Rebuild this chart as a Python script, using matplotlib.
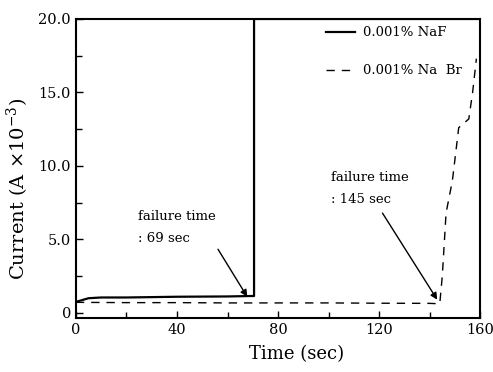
import numpy as np
import matplotlib
matplotlib.use('Agg')
import matplotlib.pyplot as plt
from matplotlib.ticker import MultipleLocator, FixedLocator, FixedFormatter

plt.rcParams['font.family'] = ['DejaVu Serif']
plt.rcParams['mathtext.fontset'] = 'dejavuserif'

# 0.001% NaF (solid)
naf_t = [0, 2, 5, 10, 20, 40, 60, 69, 70.5, 70.5, 100, 160]
naf_i = [0.75, 0.85, 1.0, 1.05, 1.05, 1.1, 1.12, 1.15, 1.15, 20.0, 20.0, 20.0]

# 0.001% Na Br (dashed)
nabr_t = [0, 20, 40, 60, 80, 100, 120, 140, 144, 145, 146.5, 149, 151.5, 155.5, 157, 158.5]
nabr_i = [0.72, 0.7, 0.7, 0.68, 0.68, 0.68, 0.66, 0.65, 0.62, 2.5, 6.8, 9.0, 12.6, 13.2, 15.0, 17.3]

y_ticks = [0, 5, 10, 15, 20]
y_labels = ['0', '5.0', '10.0', '15.0', '20.0']

fig = plt.figure(figsize=(4.93, 3.72), dpi=100)
ax = fig.add_axes([0.154, 0.145, 0.82, 0.804])

ax.plot(naf_t, naf_i, color='k', lw=1.6, label='0.001% NaF')
ax.plot(nabr_t, nabr_i, color='k', lw=1.0, ls=(0, (6, 5)), label='0.001% Na  Br')

ax.set_xlim(0, 160)
ax.set_ylim(-0.35, 20)
ax.xaxis.set_major_locator(MultipleLocator(40))
ax.xaxis.set_minor_locator(MultipleLocator(20))
ax.yaxis.set_major_locator(FixedLocator(y_ticks))
ax.yaxis.set_major_formatter(FixedFormatter(y_labels))
ax.yaxis.set_minor_locator(MultipleLocator(2.5))
ax.tick_params(which='both', direction='in', labelsize=10.5, width=1.0)
ax.tick_params(which='major', length=5)
ax.tick_params(which='minor', length=4)
for s in ax.spines.values():
    s.set_linewidth(1.5)

ax.set_xlabel('Time (sec)', fontsize=13)
ax.set_ylabel(r'Current (A $\times$10$^{-3}$)', fontsize=14)
ax.xaxis.set_label_coords(0.547, -0.09)
ax.yaxis.set_label_coords(-0.112, 0.43)

ax.annotate('failure time\n: 69 sec', xy=(67.8, 1.1), xytext=(24.5, 4.6),
            fontsize=9.5, ha='left', va='bottom', linespacing=1.9,
            arrowprops=dict(arrowstyle='-|>', color='k', lw=1.0,
                            shrinkA=1, shrinkB=0, mutation_scale=10,
                            relpos=(1.0, 0.0)),
            annotation_clip=False)
ax.annotate('failure time\n: 145 sec', xy=(143.0, 0.9), xytext=(101, 7.3),
            fontsize=9.5, ha='left', va='bottom', linespacing=1.9,
            arrowprops=dict(arrowstyle='-|>', color='k', lw=1.0,
                            shrinkA=4, shrinkB=0, mutation_scale=10,
                            relpos=(0.6, 0)))

ax.legend(loc='upper right', bbox_to_anchor=(0.985, 1.015), frameon=False,
          fontsize=9.5, handlelength=2.2, handletextpad=0.6, labelspacing=1.9)

plt.savefig('out.png', dpi=100)
